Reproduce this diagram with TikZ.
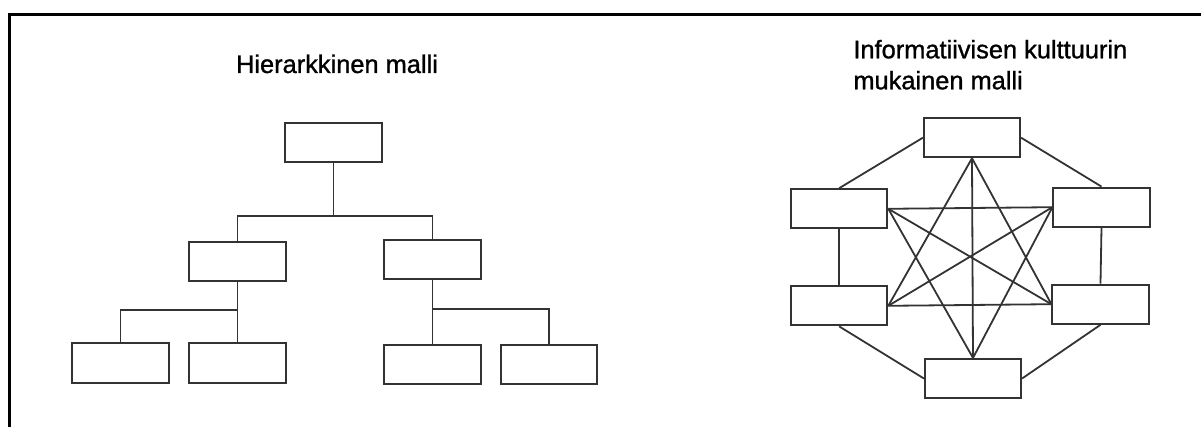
\documentclass[tikz,border=0pt]{standalone}
\usepackage{fontspec}
\setmainfont{Liberation Sans}
\newfontfamily\titlefont{Liberation Sans}[BoldFont=Liberation Sans, BoldFeatures={FakeBold=1.1}]
\usetikzlibrary{positioning}
\definecolor{boxgray}{HTML}{333333}

\begin{document}
\begin{tikzpicture}[x=0.5pt, y=-0.5pt,
  box/.style={rectangle, draw=boxgray, line width=1pt, minimum width=48.1pt, minimum height=19.6pt, inner sep=0pt},
  link/.style={draw=boxgray, line width=0.9pt},
  title/.style={font=\titlefont\bfseries\fontsize{12.7}{15.5}\selectfont, inner sep=0pt}]
\useasboundingbox (0,0) rectangle (1201,427);
\draw[line width=1.5pt] (1201,14.5) -- (9.5,14.5) -- (9.5,427);

% hierarkkinen malli
\node (hiertitle) [title, anchor=base] at (337,73) {Hierarkkinen malli};
\node (root) [box] at (333.5,142.5) {};
\node (m1) [box] at (237.5,261.3) {};
\node (m2) [box] at (432.5,259.8) {};
\node (l1) [box] at (120.5,363) {};
\node (l2) [box] at (237.5,363) {};
\node (l3) [box] at (432.5,364.5) {};
\node (l4) [box] at (549,364.5) {};
\coordinate (j0) at (333.5,215.7);
\coordinate (j1) at (237.5,310.3);
\coordinate (j2) at (432.5,309);
\draw[link] (root.south) -- (j0);
\draw[link] (m1.north) |- (j0) -| (m2.north);
\draw[link] (m1.south) -- (l2.north);
\draw[link] (l1.north) |- (j1);
\draw[link] (m2.south) -- (l3.north);
\draw[link] (j2) -| (l4.north);

% informatiivinen malli
\node (infotitle) [title, anchor=base west, align=left] at (853,89.3) {Informatiivisen kulttuurin\\mukainen malli};
\node (t) [box] at (972,137.7) {};
\node (b) [box] at (973,378.5) {};
\node (lu) [box] at (839.2,208.8) {};
\node (ru) [box] at (1101.5,207.2) {};
\node (ll) [box] at (839.2,305.8) {};
\node (rl) [box] at (1100.5,304.2) {};
\draw[link] (t.west) -- (lu.north);
\draw[link] (t.east) -- (ru.north);
\draw[link] (lu.south) -- (ll.north);
\draw[link] (ru.south) -- (rl.north);
\draw[link] (ll.south) -- (b.west);
\draw[link] (b.east) -- (rl.south);
\draw[link] (t.south) -- (b.north);
\draw[link] (t.south) -- (ll.east);
\draw[link] (t.south) -- (rl.west);
\draw[link] (b.north) -- (lu.east);
\draw[link] (b.north) -- (ru.west);
\draw[link] (lu.east) -- (ru.west);
\draw[link] (ll.east) -- (rl.west);
\draw[link] (lu.east) -- (rl.west);
\draw[link] (ll.east) -- (ru.west);
\end{tikzpicture}
\end{document}
